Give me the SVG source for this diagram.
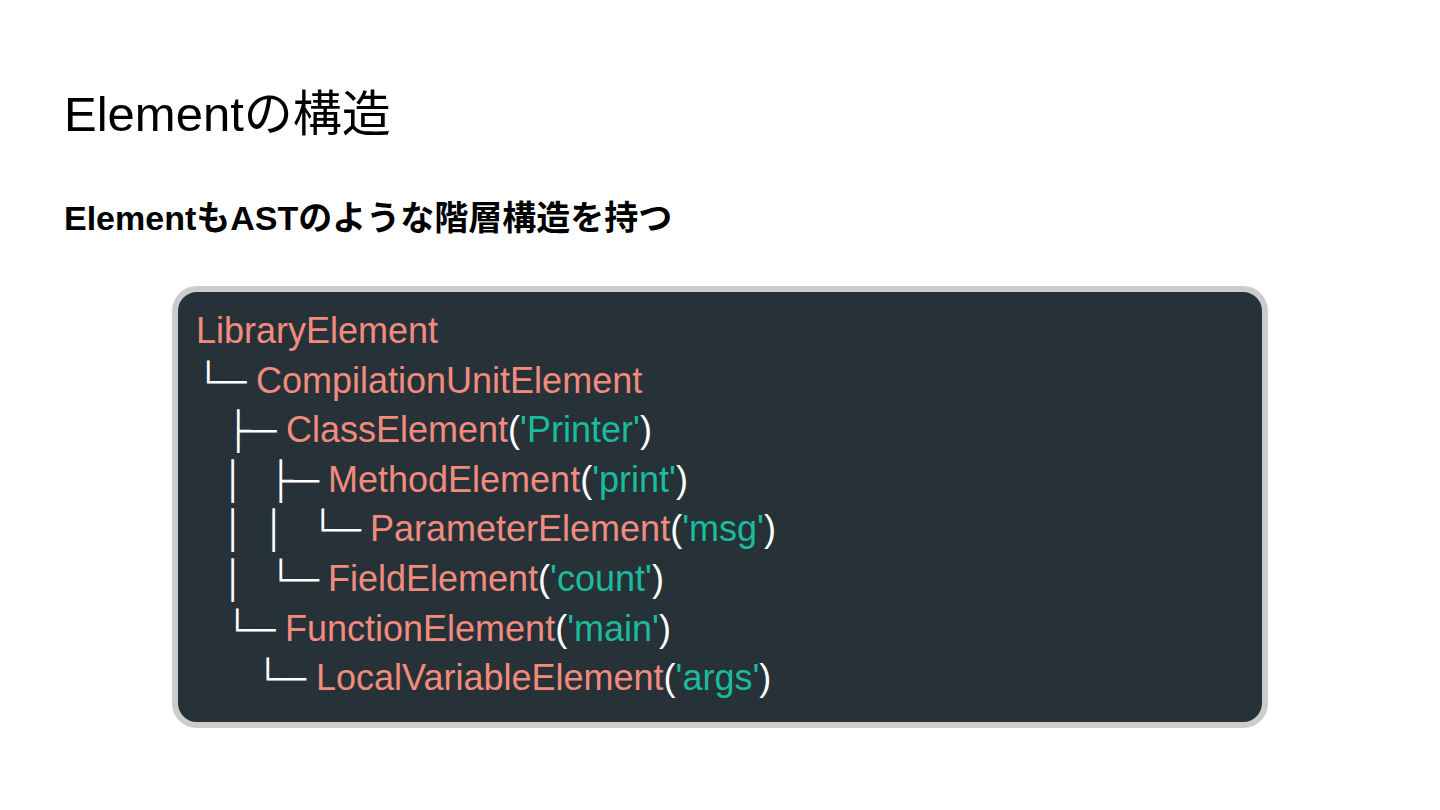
<svg xmlns="http://www.w3.org/2000/svg" width="1440" height="810" viewBox="0 0 1440 810">
  <style>
    .title { font-family: "Liberation Sans", "Noto Sans CJK JP", Arial, sans-serif; font-size: 49px; fill: #000000; }
    .sub { font-family: "Liberation Sans", "Noto Sans CJK JP", Arial, sans-serif; font-size: 34px; font-weight: bold; fill: #000000; }
    .code { font-family: "Liberation Sans", "DejaVu Sans", Arial, sans-serif; font-size: 36px; }
    .tree { fill: #ffffff; }
    .name { fill: #f28b7e; }
    .str { fill: #1abc9c; }
    .paren { fill: #ffffff; }
  </style>
  <rect width="1440" height="810" fill="#ffffff"/>
  <g id="title">
    <text class="title" x="64" y="131">Elementの構造</text>
  </g>
  <g id="subtitle">
    <text class="sub" x="64" y="230">ElementもASTのような階層構造を持つ</text>
  </g>
  <g id="code-box">
    <rect x="175" y="289" width="1090" height="436" rx="22" ry="22" fill="#263238" stroke="#cccccc" stroke-width="6"/>
  </g>
  <g id="tree-lines" class="code">
    <text x="196" y="343"><tspan class="name">LibraryElement</tspan></text>
    <text y="393"><tspan class="tree" x="195.5">└─</tspan><tspan class="name" x="256">CompilationUnitElement</tspan></text>
    <text y="442"><tspan class="tree" x="225.5">├─</tspan><tspan class="name" x="286">ClassElement</tspan><tspan class="paren">(</tspan><tspan class="str">'Printer'</tspan><tspan class="paren">)</tspan></text>
    <text y="492"><tspan class="tree" x="223">│</tspan><tspan class="tree" x="268">├─</tspan><tspan class="name" x="328">MethodElement</tspan><tspan class="paren">(</tspan><tspan class="str">'print'</tspan><tspan class="paren">)</tspan></text>
    <text y="541"><tspan class="tree" x="223">│</tspan><tspan class="tree" x="264">│</tspan><tspan class="tree" x="310">└─</tspan><tspan class="name" x="370">ParameterElement</tspan><tspan class="paren">(</tspan><tspan class="str">'msg'</tspan><tspan class="paren">)</tspan></text>
    <text y="591"><tspan class="tree" x="223">│</tspan><tspan class="tree" x="268">└─</tspan><tspan class="name" x="328">FieldElement</tspan><tspan class="paren">(</tspan><tspan class="str">'count'</tspan><tspan class="paren">)</tspan></text>
    <text y="641"><tspan class="tree" x="224.5">└─</tspan><tspan class="name" x="285">FunctionElement</tspan><tspan class="paren">(</tspan><tspan class="str">'main'</tspan><tspan class="paren">)</tspan></text>
    <text y="690"><tspan class="tree" x="255">└─</tspan><tspan class="name" x="316">LocalVariableElement</tspan><tspan class="paren">(</tspan><tspan class="str">'args'</tspan><tspan class="paren">)</tspan></text>
  </g>
</svg>
